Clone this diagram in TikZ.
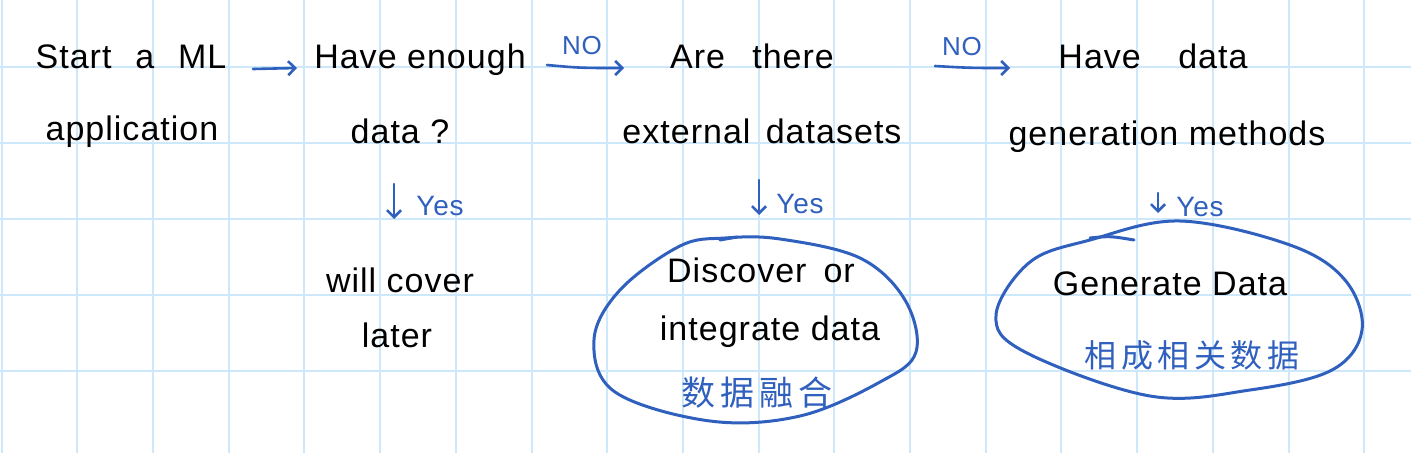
\documentclass[tikz,border=0pt]{standalone}
\usepackage{fontspec}
\setmainfont{Liberation Sans}[LetterSpace=3]
\newfontfamily\cjk{Noto Sans CJK SC}[LetterSpace=14]
\usetikzlibrary{arrows.meta}
\definecolor{inkblue}{RGB}{48,96,190}
\definecolor{gridblue}{RGB}{204,232,250}
\tikzset{
  gridline/.style={gridblue, line width=2pt},
  txt/.style={anchor=base, inner sep=0pt, font=\fontsize{34}{40}\selectfont, text=black},
  bluetxt/.style={anchor=base, inner sep=0pt, text=inkblue},
  arr/.style={inkblue, line width=2.6pt, line cap=round, -{Straight Barb[length=7pt,width=14pt,line width=2.6pt]}},
  loop/.style={inkblue, line width=3pt, line cap=round, line join=round},
}
\begin{document}
\begin{tikzpicture}[x=1pt,y=-1pt]
\useasboundingbox (0,0) rectangle (1411,453);
\fill[white] (0,0) rectangle (1411,453);
% grid
\foreach \i in {0,...,18} \draw[gridline] (1.6+75.7*\i,0) -- (1.6+75.7*\i,453);
\foreach \j in {0,...,5} \draw[gridline] (0,-9+76*\j) -- (1411,-9+76*\j);

% texts
\node[txt] (s1) at (131,68) {Start\hspace{0.7em}a\hspace{0.7em}ML};
\node[txt] (s2) at (132,140) {application};
\node[txt] (h1) at (420,68) {Have enough};
\node[txt] (h2) at (400,143) {data ?};
\node[txt] (a1) at (752,68) {Are\hspace{0.8em}there};
\node[txt] (a2) at (762,143) {external\hspace{0.45em}datasets};
\node[txt] (g1) at (1153,68) {Have\hspace{1.1em}data};
\node[txt] (g2) at (1167,145) {generation methods};
\node[txt] (w1) at (400,292) {will cover};
\node[txt] (w2) at (397,347) {later};
\node[txt] (d1) at (761,282) {Discover\hspace{0.5em}or};
\node[txt] (d2) at (770,340) {integrate data};
\node[txt] (e1) at (1170,295) {Generate Data};
\node[bluetxt, font=\cjk\fontsize{34}{40}\selectfont] (z1) at (757,405) {数据融合};
\node[bluetxt, font=\cjk\fontsize{32}{40}\selectfont] (z2) at (1192,367) {相成相关数据};

% labels
\node[bluetxt, font=\fontsize{26}{30}\selectfont] (no1) at (582,54) {NO};
\node[bluetxt, font=\fontsize{26}{30}\selectfont] (no2) at (962,55) {NO};
\node[bluetxt, font=\fontsize{28}{32}\selectfont] (y1) at (440,215) {Yes};
\node[bluetxt, font=\fontsize{28}{32}\selectfont] (y2) at (800,213) {Yes};
\node[bluetxt, font=\fontsize{28}{32}\selectfont] (y3) at (1200,216) {Yes};

% arrow end points
\coordinate (r1a) at (253,69);  \coordinate (r1b) at (297,68);
\coordinate (r2a) at (547,65);  \coordinate (r2b) at (624,68);
\coordinate (r3a) at (935,66);  \coordinate (r3b) at (1010,68);
\coordinate (v1a) at (394,184); \coordinate (v1b) at (394,219);
\coordinate (v2a) at (759,180); \coordinate (v2b) at (759,215);
\coordinate (v3a) at (1158,193); \coordinate (v3b) at (1158,213);

\draw[arr] (r1a) -- (r1b);
\draw[arr] (r2a) .. controls (580,68) .. (r2b);
\draw[arr] (r3a) .. controls (970,68) .. (r3b);
\draw[arr] (v1a) -- (v1b);
\draw[arr] (v2a) -- (v2b);
\draw[arr] (v3a) -- (v3b);

% hand-drawn loops
\draw[loop] plot[smooth cycle, tension=0.6] coordinates {
  (725,238) (780,239) (860,258) (905,300) (916,352) (880,382) (800,416)
  (710,421) (615,392) (594,340) (620,290) (680,246)};
\draw[loop] (720,240) -- (737,237);
\draw[loop] plot[smooth cycle, tension=0.6] coordinates {
  (1180,221) (1290,245) (1345,280) (1362,330) (1332,370) (1250,390)
  (1150,396) (1025,352) (996,315) (1030,262) (1090,240)};
\draw[loop] (1090,238) .. controls (1110,236) .. (1134,240);
\end{tikzpicture}
\end{document}
